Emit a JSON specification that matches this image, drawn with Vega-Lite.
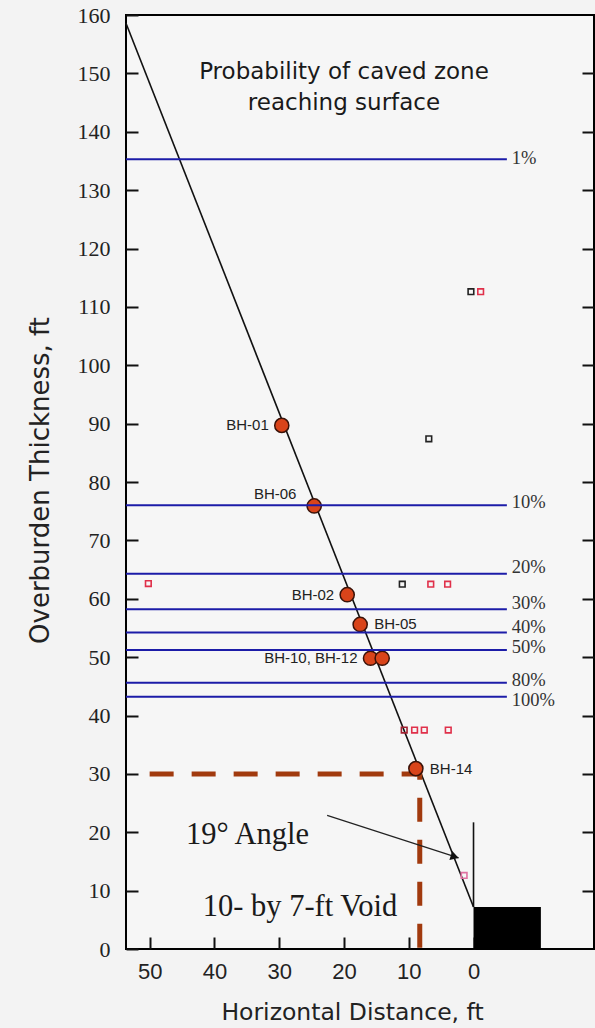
{
  "$schema": "https://vega.github.io/schema/vega-lite/v6.json",
  "width": 468,
  "height": 934,
  "autosize": {"type": "none"},
  "padding": {"left": 126, "top": 15, "right": 1, "bottom": 79},
  "background": "#f3f3f3",
  "config": {
    "view": {"stroke": "#000000", "strokeWidth": 2, "fill": "#f6f6f6"},
    "axis": {"grid": false, "domain": false, "tickColor": "#111111", "tickWidth": 2, "labelColor": "#222222", "zindex": 1}
  },
  "datasets": {
    "diag": [{"x": 53.65, "y": 158.6}, {"x": 0, "y": 7.2}],
    "dash": [{"i": 1, "x": 50, "y": 30}, {"i": 2, "x": 8.3, "y": 30}, {"i": 3, "x": 8.3, "y": 0}],
    "vline": [{"x": 0, "y": 7.2}, {"x": 0, "y": 21.7}],
    "void": [{"x": 0, "x2": -10.4, "y": 0, "y2": 7.2}],
    "arrow": [{"x": 22.6, "y": 22.9}, {"x": 2.3, "y": 15.6}],
    "arrowhead": [{"x": 2.9, "y": 15.8}],
    "levels": [
      {"pct": "1%", "y": 135.3, "ly": 135.5},
      {"pct": "10%", "y": 76.0, "ly": 76.5},
      {"pct": "20%", "y": 64.3, "ly": 65.5},
      {"pct": "30%", "y": 58.2, "ly": 59.2},
      {"pct": "40%", "y": 54.2, "ly": 55.2},
      {"pct": "50%", "y": 51.2, "ly": 51.7},
      {"pct": "80%", "y": 45.6, "ly": 46.1},
      {"pct": "100%", "y": 43.2, "ly": 42.6}
    ],
    "squares": [
      {"x": 0.4, "y": 112.6, "g": "black"},
      {"x": -1.1, "y": 112.6, "g": "red"},
      {"x": 6.9, "y": 87.4, "g": "black"},
      {"x": 11.0, "y": 62.5, "g": "black"},
      {"x": 6.6, "y": 62.5, "g": "red"},
      {"x": 4.0, "y": 62.5, "g": "red"},
      {"x": 50.2, "y": 62.6, "g": "red"},
      {"x": 10.7, "y": 37.5, "g": "darkred"},
      {"x": 9.1, "y": 37.5, "g": "red"},
      {"x": 7.6, "y": 37.5, "g": "red"},
      {"x": 3.9, "y": 37.5, "g": "red"},
      {"x": 1.45, "y": 12.6, "g": "pink"}
    ],
    "bh": [
      {"name": "BH-01", "label": "BH-01", "x": 29.6, "y": 89.7},
      {"name": "BH-06", "label": "BH-06", "x": 24.6, "y": 75.9},
      {"name": "BH-02", "label": "BH-02", "x": 19.5, "y": 60.7},
      {"name": "BH-05", "label": "BH-05", "x": 17.5, "y": 55.6},
      {"name": "BH-10", "label": "BH-10, BH-12", "x": 15.9, "y": 49.8},
      {"name": "BH-12", "label": "", "x": 14.1, "y": 49.8},
      {"name": "BH-14", "label": "BH-14", "x": 8.9, "y": 30.9}
    ],
    "notes": [
      {"text": "19° Angle", "x": 44.4, "y": 19.5},
      {"text": "10- by 7-ft Void", "x": 41.8, "y": 7.2}
    ],
    "title": [{"text": "Probability of caved zone\nreaching surface", "x": 20.0, "y": 150.2}]
  },
  "layer": [
    {
      "layer": [
        {
          "data": {"name": "diag"},
          "mark": {"type": "line", "color": "#111111", "strokeWidth": 1.6},
          "encoding": {
            "x": {
              "field": "x", "type": "quantitative",
              "scale": {"domain": [53.65, -18.6], "nice": false, "zero": false},
              "axis": {
                "values": [50, 40, 30, 20, 10, 0], "format": "d",
                "tickSize": 12, "offset": -12, "labelPadding": 12, "labelFont": "Liberation Sans", "labelFontSize": 22,
                "title": "Horizontal Distance, ft", "titleFont": "DejaVu Sans", "titleFontSize": 23.5, "titleFontWeight": "normal",
                "titleColor": "#222222", "titleX": 226, "titleY": 75, "titleBaseline": "middle", "titleAnchor": "start", "titleAlign": "center"
              }
            },
            "y": {
              "field": "y", "type": "quantitative",
              "scale": {"domain": [0, 160], "nice": false, "zero": false},
              "axis": {
                "values": [0, 10, 20, 30, 40, 50, 60, 70, 80, 90, 100, 110, 120, 130, 140, 150, 160],
                "tickSize": 12, "offset": -12, "labelPadding": 16, "labelFont": "Liberation Serif", "labelFontSize": 22,
                "title": "Overburden Thickness, ft", "titleFont": "DejaVu Sans", "titleFontSize": 26, "titleFontWeight": "normal",
                "titleColor": "#222222", "titleAngle": -90, "titleX": -98, "titleY": 465, "titleBaseline": "middle", "titleAlign": "center"
              }
            }
          }
        },
        {
          "data": {"name": "dash"},
          "mark": {"type": "line", "color": "#a13a0e", "strokeWidth": 5, "strokeDash": [24, 18]},
          "encoding": {
            "x": {"field": "x", "type": "quantitative"},
            "y": {"field": "y", "type": "quantitative"},
            "order": {"field": "i"}
          }
        },
        {
          "data": {"name": "vline"},
          "mark": {"type": "line", "color": "#111111", "strokeWidth": 1.6},
          "encoding": {
            "x": {"field": "x", "type": "quantitative"},
            "y": {"field": "y", "type": "quantitative"}
          }
        },
        {
          "data": {"name": "void"},
          "mark": {"type": "rect", "color": "#000000"},
          "encoding": {
            "x": {"field": "x", "type": "quantitative"},
            "x2": {"field": "x2"},
            "y": {"field": "y", "type": "quantitative"},
            "y2": {"field": "y2"}
          }
        },
        {
          "data": {"name": "arrow"},
          "mark": {"type": "line", "color": "#222222", "strokeWidth": 1.2},
          "encoding": {
            "x": {"field": "x", "type": "quantitative"},
            "y": {"field": "y", "type": "quantitative"}
          }
        },
        {
          "data": {"name": "arrowhead"},
          "mark": {"type": "point", "shape": "triangle-right", "angle": 18, "size": 90, "filled": true, "color": "#111111", "opacity": 1},
          "encoding": {
            "x": {"field": "x", "type": "quantitative"},
            "y": {"field": "y", "type": "quantitative"}
          }
        },
        {
          "data": {"name": "squares"},
          "mark": {"type": "point", "shape": "square", "size": 32, "filled": false, "strokeWidth": 1.6, "opacity": 1},
          "encoding": {
            "x": {"field": "x", "type": "quantitative"},
            "y": {"field": "y", "type": "quantitative"},
            "color": {
              "field": "g", "type": "nominal", "legend": null,
              "scale": {"domain": ["black", "red", "darkred", "pink"], "range": ["#222222", "#e0304a", "#a02030", "#e070a0"]}
            }
          }
        },
        {
          "data": {"name": "bh"},
          "mark": {"type": "point", "shape": "circle", "size": 200, "filled": true, "fill": "#d9441a", "stroke": "#3a1208", "strokeWidth": 1.5, "opacity": 1},
          "encoding": {
            "x": {"field": "x", "type": "quantitative"},
            "y": {"field": "y", "type": "quantitative"}
          }
        },
        {
          "data": {"name": "bh"},
          "transform": [{"filter": "indexof(['BH-01','BH-02','BH-10'], datum.name) >= 0"}],
          "mark": {"type": "text", "align": "right", "baseline": "middle", "dx": -13, "font": "Liberation Sans", "fontSize": 15, "color": "#222222"},
          "encoding": {
            "x": {"field": "x", "type": "quantitative"},
            "y": {"field": "y", "type": "quantitative"},
            "text": {"field": "label"}
          }
        },
        {
          "data": {"name": "bh"},
          "transform": [{"filter": "indexof(['BH-05','BH-14'], datum.name) >= 0"}],
          "mark": {"type": "text", "align": "left", "baseline": "middle", "dx": 14, "font": "Liberation Sans", "fontSize": 15, "color": "#222222"},
          "encoding": {
            "x": {"field": "x", "type": "quantitative"},
            "y": {"field": "y", "type": "quantitative"},
            "text": {"field": "label"}
          }
        },
        {
          "data": {"name": "bh"},
          "transform": [{"filter": "datum.name == 'BH-06'"}],
          "mark": {"type": "text", "align": "center", "baseline": "middle", "dx": -39, "dy": -12, "font": "Liberation Sans", "fontSize": 15, "color": "#222222"},
          "encoding": {
            "x": {"field": "x", "type": "quantitative"},
            "y": {"field": "y", "type": "quantitative"},
            "text": {"field": "label"}
          }
        },
        {
          "data": {"name": "levels"},
          "mark": {"type": "text", "align": "left", "baseline": "middle", "font": "Liberation Serif", "fontSize": 18.5, "color": "#333333"},
          "encoding": {
            "x": {"datum": -5.9, "type": "quantitative"},
            "y": {"field": "ly", "type": "quantitative"},
            "text": {"field": "pct"}
          }
        },
        {
          "data": {"name": "notes"},
          "mark": {"type": "text", "align": "left", "baseline": "middle", "font": "Liberation Serif", "fontSize": 30.5, "color": "#1a1a1a"},
          "encoding": {
            "x": {"field": "x", "type": "quantitative"},
            "y": {"field": "y", "type": "quantitative"},
            "text": {"field": "text"}
          }
        },
        {
          "data": {"name": "title"},
          "mark": {"type": "text", "align": "center", "baseline": "middle", "font": "DejaVu Sans", "fontSize": 23, "lineHeight": 31, "lineBreak": "\n", "color": "#1a1a1a"},
          "encoding": {
            "x": {"field": "x", "type": "quantitative"},
            "y": {"field": "y", "type": "quantitative"},
            "text": {"field": "text"}
          }
        }
      ]
    },
    {
      "data": {"name": "levels"},
      "mark": {"type": "rule", "color": "#1c1ca8", "strokeWidth": 2},
      "encoding": {
        "x": {"datum": 53.65, "type": "quantitative"},
        "x2": {"datum": -5.15},
        "y": {
          "field": "y", "type": "quantitative",
          "axis": {"orient": "right", "labels": false, "title": null, "tickSize": 12, "offset": -12, "values": [10, 20, 30, 40, 50, 60, 70, 80, 90, 100, 110, 120, 130, 140, 150]}
        }
      }
    }
  ],
  "resolve": {"axis": {"y": "independent"}}
}
